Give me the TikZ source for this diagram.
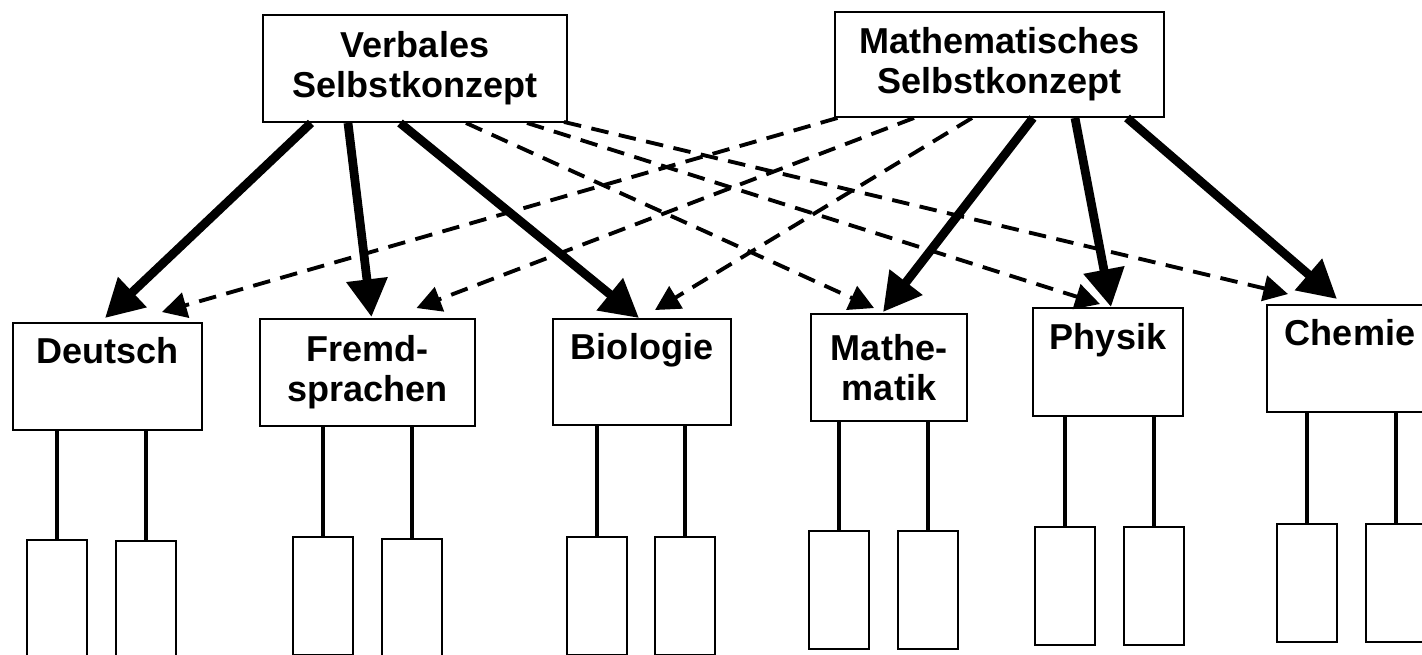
\documentclass[tikz,border=0pt]{standalone}
\usepackage{fontspec}
\setmainfont{Liberation Sans}
\usetikzlibrary{arrows.meta,calc}
\begin{document}
\begin{tikzpicture}[x=0.02cm,y=-0.02cm,
  box/.style={draw,line width=1.1pt,align=center,inner sep=0pt,
    font=\fontsize{20.5}{22.7}\selectfont\bfseries},
  leaf/.style={draw,line width=1.1pt,minimum width=60*0.02cm,minimum height=118*0.02cm,inner sep=0pt},
  strong/.style={line width=5pt,-{Triangle[length=21.5pt,width=22.5pt]}},
  cross/.style={line width=2.2pt,dash pattern=on 10pt off 6pt,-{Triangle[length=14pt,width=14.5pt]}},
  stem/.style={line width=2.3pt}]
\useasboundingbox (0,0) rectangle (1422,655);
\clip (0,0) rectangle (1422,655);
\fill[white] (0,0) rectangle (1422,655);

% top level
\node[box,minimum width=304*0.02cm,minimum height=107*0.02cm] (v) at (415,68.5) {Verbales\\Selbstkonzept};
\node[box,minimum width=329*0.02cm,minimum height=105*0.02cm] (m) at (999.5,64.5) {Mathematisches\\Selbstkonzept};

% subjects
\node[box,minimum width=189*0.02cm,minimum height=107*0.02cm] (de) at (107.5,376.5) {Deutsch\\\strut};
\node[box,minimum width=215*0.02cm,minimum height=107*0.02cm] (fr) at (367.5,372.5) {Fremd-\\sprachen};
\node[box,minimum width=178*0.02cm,minimum height=106*0.02cm] (bi) at (642,372) {Biologie\\\strut};
\node[box,minimum width=156*0.02cm,minimum height=107*0.02cm] (ma) at (889,367.5) {Mathe-\\matik};
\node[box,minimum width=150*0.02cm,minimum height=108*0.02cm] (ph) at (1108,362) {Physik\\\strut};
\node[box,minimum width=166*0.02cm,minimum height=107*0.02cm] (ch) at (1350,358.5) {Chemie\\\strut};

% leaves
\node[leaf] (de1) at (57,599) {};
\node[leaf] (de2) at (146,600) {};
\node[leaf] (fr1) at (323,596) {};
\node[leaf] (fr2) at (412,598) {};
\node[leaf] (bi1) at (597,596) {};
\node[leaf] (bi2) at (685,596) {};
\node[leaf] (ma1) at (839,590) {};
\node[leaf] (ma2) at (928,590) {};
\node[leaf] (ph1) at (1065,586) {};
\node[leaf] (ph2) at (1154,586) {};
\node[leaf] (ch1) at (1307,583) {};
\node[leaf] (ch2) at (1396,583) {};

% stems
\foreach \p/\l in {de/de1,de/de2,fr/fr1,fr/fr2,bi/bi1,bi/bi2,ma/ma1,ma/ma2,ph/ph1,ph/ph2,ch/ch1,ch/ch2}
  \draw[stem] (\l.north |- \p.south) -- (\l.north);

% verbal self-concept
\draw[strong] ($(v.south)+(-104,0)$) -- ($(de.north)+(-2.5,-4)$);
\draw[strong] ($(v.south)+(-67,0)$) -- ($(fr.north)+(4,-1)$);
\draw[strong] ($(v.south)+(-15,0)$) -- ($(bi.north)+(-3,0)$);
\draw[cross] ($(v.south)+(51,0)$) -- ($(ma.north)+(-15,-5)$);
\draw[cross] ($(v.south)+(112,0)$) -- ($(ph.north)+(-8,-3)$);
\draw[cross] ($(v.south)+(149,-1)$) -- ($(ch.north)+(-62,-10)$);

% math self-concept
\draw[cross] ($(m.south)+(-162,0)$) -- ($(de.north)+(54.5,-10)$);
\draw[cross] ($(m.south)+(-85.5,0)$) -- ($(fr.north)+(49,-10)$);
\draw[cross] ($(m.south)+(-27.5,0)$) -- ($(bi.north)+(13,-8)$);
\draw[strong] ($(m.south)+(33.5,0)$) -- ($(ma.north)+(-6,-1)$);
\draw[strong] ($(m.south)+(75.5,0)$) -- ($(ph.north)+(3,0)$);
\draw[strong] ($(m.south)+(127.5,0)$) -- ($(ch.north)+(-13,-5)$);
\end{tikzpicture}
\end{document}
